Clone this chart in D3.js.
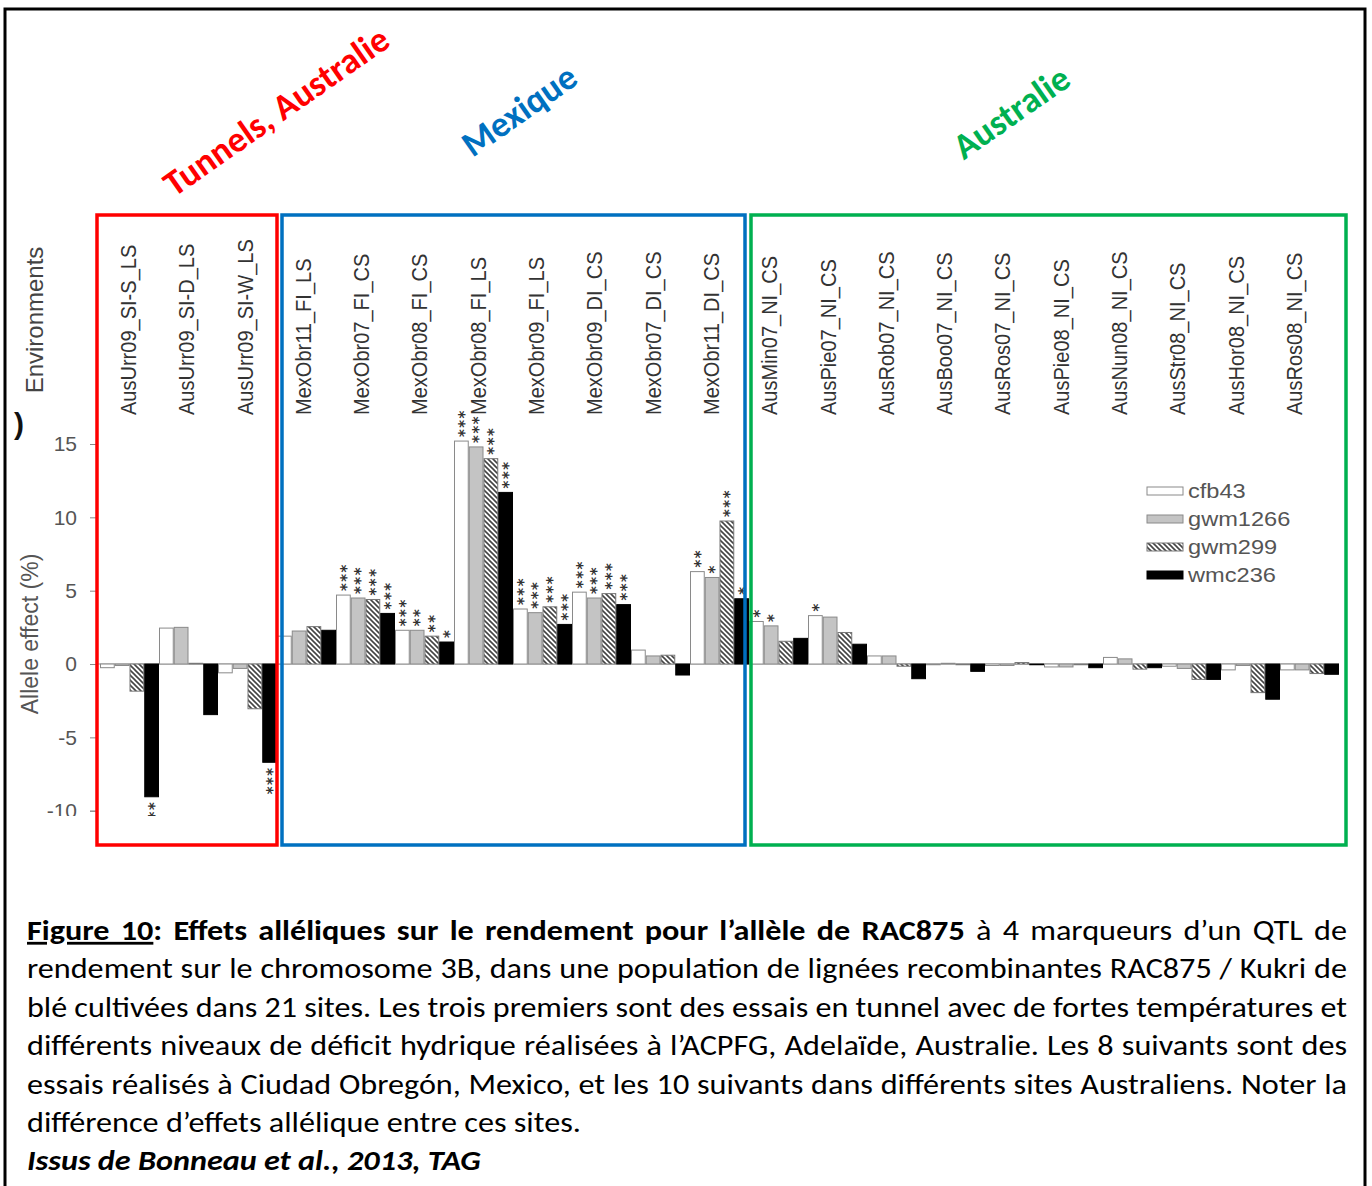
<!DOCTYPE html>
<html>
<head>
<meta charset="utf-8">
<script src="https://cdn.jsdelivr.net/npm/d3@7"></script>
<style>
  body { margin: 0; background: #fff; }
  svg text { white-space: pre; }
</style>
</head>
<body>
<script>
// environments (x categories)
const envs = ["AusUrr09_SI-S_LS", "AusUrr09_SI-D_LS", "AusUrr09_SI-W_LS",
  "MexObr11_FI_LS", "MexObr07_FI_CS", "MexObr08_FI_CS", "MexObr08_FI_LS",
  "MexObr09_FI_LS", "MexObr09_DI_CS", "MexObr07_DI_CS", "MexObr11_DI_CS",
  "AusMin07_NI_CS", "AusPie07_NI_CS", "AusRob07_NI_CS", "AusBoo07_NI_CS",
  "AusRos07_NI_CS", "AusPie08_NI_CS", "AusNun08_NI_CS", "AusStr08_NI_CS",
  "AusHor08_NI_CS", "AusRos08_NI_CS"];

const markers = ["cfb43", "gwm1266", "gwm299", "wmc236"];

// allele effect (%) per marker
const cfb43   = [-0.25, 2.45, -0.6, 1.9, 4.7, 2.3, 15.2, 3.75, 4.9, 0.95, 6.3, 2.9, 3.3, 0.55, -0.05, -0.1, -0.2, 0.45, -0.15, -0.4, -0.4];
const gwm1266 = [-0.1, 2.5, -0.3, 2.25, 4.5, 2.3, 14.8, 3.5, 4.5, 0.55, 5.9, 2.6, 3.2, 0.55, 0.05, -0.1, -0.2, 0.35, -0.3, -0.1, -0.4];
const gwm299  = [-1.85, 0.05, -3.05, 2.55, 4.4, 1.9, 14.0, 3.9, 4.8, 0.6, 9.75, 1.55, 2.15, -0.15, -0.05, 0.1, -0.05, -0.35, -1.05, -1.95, -0.65];
const wmc236  = [-9.05, -3.45, -6.7, 2.3, 3.45, 1.5, 11.7, 2.7, 4.05, -0.75, 4.45, 1.75, 1.35, -1.0, -0.5, -0.05, -0.25, -0.25, -1.05, -2.4, -0.7];

// significance stars
const sigCfb43   = ["", "", "", "", "***", "***", "***", "***", "***", "", "**", "*", "*", "", "", "", "", "", "", "", ""];
const sigGwm1266 = ["", "", "", "", "***", "**", "***", "***", "***", "", "*", "*", "", "", "", "", "", "", "", "", ""];
const sigGwm299  = ["", "", "", "", "***", "**", "***", "***", "***", "", "***", "", "", "", "", "", "", "", "", "", ""];
const sigWmc236  = ["**", "", "***", "", "***", "*", "***", "***", "***", "", "*", "", "", "", "", "", "", "", "", "", ""];

const yTicks = [15, 10, 5, 0, -5, -10];

const groups = [
  { name: "Tunnels, Australie", color: "#ff0000" },
  { name: "Mexique", color: "#0070c0" },
  { name: "Australie", color: "#00b050" }
];

const caption = [
  [{ t: "Figure 10", b: 1, u: 1 }, { t: ": Effets alléliques sur le rendement pour l’allèle de RAC875", b: 1 }, { t: " à 4 marqueurs d’un QTL de" }],
  [{ t: "rendement sur le chromosome 3B, dans une population de lignées recombinantes RAC875 / Kukri de" }],
  [{ t: "blé cultivées dans 21 sites. Les trois premiers sont des essais en tunnel avec de fortes températures et" }],
  [{ t: "différents niveaux de déficit hydrique réalisées à l’ACPFG, Adelaïde, Australie. Les 8 suivants sont des" }],
  [{ t: "essais réalisés à Ciudad Obregón, Mexico, et les 10 suivants dans différents sites Australiens. Noter la" }],
  [{ t: "différence d’effets allélique entre ces sites." }],
  [{ t: "Issus de Bonneau et al., 2013, TAG", b: 1, i: 1 }]
];

// build table
const vals = [cfb43, gwm1266, gwm299, wmc236];
const sigs = [sigCfb43, sigGwm1266, sigGwm299, sigWmc236];
const data = envs.map((e, i) => ({
  env: e,
  bars: markers.map((m, j) => ({ env: e, key: m, v: vals[j][i], sig: sigs[j][i] }))
}));

const W = 1372, H = 1186;
const svg = d3.select("body").append("svg").attr("width", W).attr("height", H);

const defs = svg.append("defs");
const pat = defs.append("pattern").attr("id", "hatch")
  .attr("patternUnits", "userSpaceOnUse").attr("width", 5).attr("height", 5);
pat.append("rect").attr("width", 5).attr("height", 5).attr("fill", "#fff");
pat.append("path").attr("d", "M-1,-1 L6,6 M-1,4 L1,6 M4,-1 L6,1")
  .attr("stroke", "#444").attr("stroke-width", 1.6);
defs.append("clipPath").attr("id", "cut").append("rect")
  .attr("x", 0).attr("y", 0).attr("width", W).attr("height", 816);

// outer frame
svg.append("rect").attr("x", 5).attr("y", 9).attr("width", 1360).attr("height", 1200)
  .attr("fill", "none").attr("stroke", "#000").attr("stroke-width", 3);

// scales
const x0 = d3.scaleBand().domain(envs).range([100, 1339]).padding(0);
const x1 = d3.scaleBand().domain(markers).range([0, x0.bandwidth()]).padding(0);
const xl = d3.scalePoint().domain(envs).range([128, 1294]);
const y = d3.scaleLinear().domain([-10, 15]).range([810.7, 444]);

const fill = { cfb43: "#fff", gwm1266: "#c4c4c4", gwm299: "url(#hatch)", wmc236: "#000" };
const edge = { cfb43: "#8a8a8a", gwm1266: "#8a8a8a", gwm299: "#777", wmc236: "#000" };

const chart = svg.append("g").attr("clip-path", "url(#cut)");

// y axis
const yAxis = chart.append("g").attr("transform", "translate(97,0)")
  .call(d3.axisLeft(y).tickValues(yTicks).tickSize(7).tickPadding(13).tickFormat(d => String(d)));
yAxis.selectAll("path, line").attr("stroke", "#888");
yAxis.selectAll("text").attr("fill", "#555").style("font-family", "Liberation Sans, Arial, sans-serif")
  .style("font-size", "21px");

// zero line
chart.append("line").attr("x1", 97).attr("x2", 1339).attr("y1", y(0)).attr("y2", y(0))
  .attr("stroke", "#999").attr("stroke-width", 1.2);

// bars
const grp = chart.selectAll(".env").data(data).enter().append("g")
  .attr("class", "env").attr("transform", d => `translate(${x0(d.env)},0)`);

grp.selectAll("rect").data(d => d.bars).enter().append("rect")
  .attr("x", d => x1(d.key) + 0.5)
  .attr("width", x1.bandwidth() - 1)
  .attr("y", d => y(Math.max(0, d.v)))
  .attr("height", d => Math.abs(y(d.v) - y(0)))
  .attr("fill", d => fill[d.key])
  .attr("stroke", d => edge[d.key])
  .attr("stroke-width", 1);

// significance stars: rotated like the labels, so they stack in a column
grp.selectAll(".sig").data(d => d.bars.filter(b => b.sig)).enter().append("text")
  .attr("class", "sig")
  .attr("transform", b => `translate(${x1(b.key) + x1.bandwidth() / 2},${b.v >= 0 ? y(b.v) - 4 : y(b.v) + 4}) rotate(-90)`)
  .attr("text-anchor", b => b.v >= 0 ? "start" : "end")
  .attr("dy", "0.55em")
  .attr("fill", "#333")
  .style("font-family", "DejaVu Sans, sans-serif")
  .style("font-weight", "bold")
  .style("font-size", "15px")
  .style("letter-spacing", "1.5px")
  .text(b => b.sig);

// environment labels (rotated)
svg.selectAll(".envlab").data(envs).enter().append("text")
  .attr("class", "envlab")
  .attr("transform", d => `translate(${xl(d)},415) rotate(-90)`)
  .attr("dy", "0.36em")
  .attr("fill", "#333")
  .style("font-family", "Liberation Sans, Arial, sans-serif")
  .style("font-size", "22px")
  .text(d => d)
  .each(function () {
    const n = this.getComputedTextLength();
    d3.select(this).attr("textLength", n * 0.91).attr("lengthAdjust", "spacingAndGlyphs");
  });

svg.append("text")
  .attr("transform", "translate(35,320) rotate(-90)")
  .attr("dy", "0.35em").attr("text-anchor", "middle").attr("fill", "#444")
  .style("font-family", "Liberation Sans, Arial, sans-serif").style("font-size", "24px")
  .text("Environments");

svg.append("text")
  .attr("transform", "translate(30,634) rotate(-90)")
  .attr("dy", "0.35em").attr("text-anchor", "middle").attr("fill", "#555")
  .style("font-family", "Liberation Sans, Arial, sans-serif").style("font-size", "23px")
  .text("Allele effect (%)");

svg.append("text").attr("x", 14).attr("y", 434).attr("fill", "#111")
  .style("font-family", "Liberation Sans, Arial, sans-serif").style("font-size", "30px")
  .style("font-weight", "bold").text(")");

// legend
const leg = svg.append("g").attr("transform", "translate(1147,491)");
const li = leg.selectAll("g").data(markers).enter().append("g")
  .attr("transform", (d, i) => `translate(0,${i * 28})`);
li.append("rect").attr("x", 0).attr("y", -4).attr("width", 36).attr("height", 8)
  .attr("fill", d => fill[d]).attr("stroke", d => edge[d]);
li.append("text").attr("x", 41).attr("dy", "0.35em").attr("fill", "#555")
  .style("font-family", "Liberation Sans, Arial, sans-serif").style("font-size", "20px")
  .text(d => d)
  .each(function () {
    const n = this.getComputedTextLength();
    d3.select(this).attr("textLength", n * 1.18).attr("lengthAdjust", "spacingAndGlyphs");
  });

// coloured group boxes
const boxes = [[97, 277], [282, 745], [751, 1346]];
svg.selectAll(".box").data(groups).enter().append("rect")
  .attr("class", "box")
  .attr("x", (d, i) => boxes[i][0]).attr("y", 215)
  .attr("width", (d, i) => boxes[i][1] - boxes[i][0]).attr("height", 630)
  .attr("fill", "none").attr("stroke", d => d.color).attr("stroke-width", 3.5);

// group titles
const titlePos = [[276, 111], [519, 110], [1011, 112]];
svg.selectAll(".title").data(groups).enter().append("text")
  .attr("class", "title")
  .attr("transform", (d, i) => `translate(${titlePos[i][0]},${titlePos[i][1]}) rotate(-35)`)
  .attr("dy", "0.35em").attr("text-anchor", "middle")
  .attr("fill", d => d.color)
  .style("font-family", "Carlito, Lato, sans-serif").style("font-weight", "bold")
  .style("font-size", "36px")
  .text(d => d.name);

// caption, justified (source image is slightly stretched horizontally)
const capX = 27, capW = 1320, capSx = 1.15;
const cap = svg.append("g").attr("transform", `translate(${capX},0) scale(${capSx},1)`);
caption.forEach((line, i) => {
  const t = cap.append("text").attr("x", 0).attr("y", 940 + i * 38.4)
    .attr("fill", "#000")
    .style("font-family", "Carlito, Lato, sans-serif").style("font-size", "28px");
  line.forEach(s => {
    t.append("tspan").text(s.t)
      .style("font-weight", s.b ? "bold" : "normal")
      .style("font-style", s.i ? "italic" : "normal")
      .style("text-decoration", s.u ? "underline" : "none");
  });
  if (i < 5) {
    const target = capW / capSx;
    const n = t.node().getComputedTextLength();
    const spaces = line.map(s => s.t).join("").split(" ").length - 1;
    if (n < target) t.style("word-spacing", ((target - n) / spaces) + "px");
    else t.attr("textLength", target).attr("lengthAdjust", "spacingAndGlyphs");
  }
});
</script>
</body>
</html>
